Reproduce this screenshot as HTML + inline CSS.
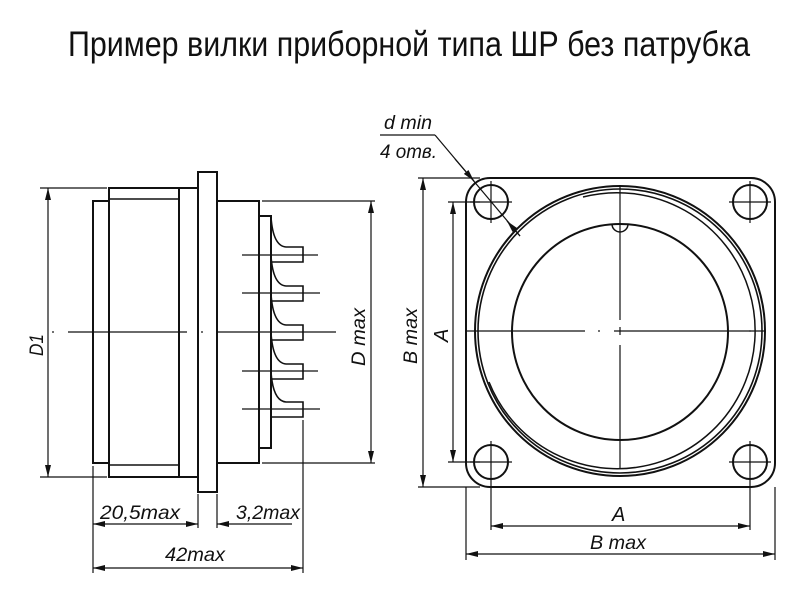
<!DOCTYPE html>
<html><head><meta charset="utf-8"><style>
html,body{margin:0;padding:0;background:#fff;}
svg{display:block;}
text{font-family:"Liberation Sans Narrow","Liberation Sans","DejaVu Sans",sans-serif;fill:#111;}
.it{font-style:italic;}
</style></head><body>
<svg width="800" height="600" viewBox="0 0 800 600" xmlns="http://www.w3.org/2000/svg">
<defs>
<marker id="ar" viewBox="0 0 12 6" refX="12" refY="3" markerWidth="12" markerHeight="6" orient="auto-start-reverse" markerUnits="userSpaceOnUse"><path d="M0,0 L12,3 L0,6 Z" fill="#111"/></marker>
</defs>
<text transform="translate(68,56) scale(1,1.25)" font-size="28" textLength="682" lengthAdjust="spacingAndGlyphs">Пример вилки приборной типа ШР без патрубка</text>

<g fill="none" stroke="#111" stroke-width="2">
<rect x="93" y="201" width="16" height="262"/>
<rect x="109" y="188" width="70" height="289"/>
<line x1="109" y1="199" x2="179" y2="199" stroke-width="1.5"/>
<line x1="109" y1="465" x2="179" y2="465" stroke-width="1.5"/>
<rect x="179" y="188" width="19" height="289"/>
<rect x="198" y="172" width="19" height="320"/>
<rect x="217" y="201" width="42" height="262"/>
<rect x="259" y="216" width="12" height="232"/>
<g stroke-width="1.6">
<path d="M271,217 Q273,246 286,247 L303,247 L303,262 L271,262"/>
<path d="M271,256 Q273,285 286,286 L303,286 L303,301 L271,301"/>
<path d="M271,294 Q273,324 286,325 L303,325 L303,340 L271,340"/>
<path d="M271,333 Q273,363 286,364 L303,364 L303,379 L271,379"/>
<path d="M271,372 Q273,401 286,402 L303,402 L303,417 L271,417"/>
</g>
</g>
<g stroke="#111" stroke-width="1.2" fill="none">
<line x1="242" y1="255" x2="318" y2="255"/>
<line x1="242" y1="293" x2="320" y2="293"/>
<line x1="242" y1="371" x2="318" y2="371"/>
<line x1="242" y1="409" x2="320" y2="409"/>
<line x1="68" y1="332" x2="187" y2="332"/>
<line x1="217" y1="332" x2="336" y2="332"/>
<line x1="52" y1="332" x2="54" y2="332"/>
<line x1="201" y1="332" x2="203" y2="332"/>
<line x1="40" y1="188" x2="107" y2="188"/>
<line x1="40" y1="477" x2="107" y2="477"/>
<line x1="48" y1="188" x2="48" y2="477" marker-start="url(#ar)" marker-end="url(#ar)"/>
<line x1="262" y1="201" x2="375" y2="201"/>
<line x1="262" y1="463" x2="375" y2="463"/>
<line x1="371" y1="201" x2="371" y2="463" marker-start="url(#ar)" marker-end="url(#ar)"/>
<line x1="93" y1="466" x2="93" y2="573"/>
<line x1="198" y1="494" x2="198" y2="528"/>
<line x1="217" y1="494" x2="217" y2="528"/>
<line x1="303" y1="420" x2="303" y2="573"/>
<line x1="93" y1="524" x2="198" y2="524" marker-start="url(#ar)" marker-end="url(#ar)"/>
<line x1="217" y1="524" x2="292" y2="524" marker-start="url(#ar)"/>
<line x1="93" y1="568" x2="303" y2="568" marker-start="url(#ar)" marker-end="url(#ar)"/>
</g>
<text class="it" x="100" y="519" font-size="19" textLength="80" lengthAdjust="spacingAndGlyphs">20,5max</text>
<text class="it" x="236" y="519" font-size="19" textLength="64" lengthAdjust="spacingAndGlyphs">3,2max</text>
<text class="it" x="165" y="561" font-size="19" textLength="60" lengthAdjust="spacingAndGlyphs">42max</text>
<text class="it" transform="translate(43,356) rotate(-90)" font-size="19" textLength="22" lengthAdjust="spacingAndGlyphs">D1</text>
<text class="it" transform="translate(365,366) rotate(-90)" font-size="19" textLength="58" lengthAdjust="spacingAndGlyphs">D max</text>

<g fill="none" stroke="#111" stroke-width="2">
<rect x="466" y="178" width="309" height="309" rx="24"/>
<circle cx="491" cy="202" r="17"/>
<circle cx="750" cy="202" r="17"/>
<circle cx="491" cy="462" r="17"/>
<circle cx="750" cy="462" r="17"/>
<circle cx="620" cy="331" r="145"/>
<circle cx="620" cy="331" r="142" stroke-width="1.6"/>
<path d="M583,197 A138,138 0 1,1 489,382" stroke-width="1.5"/>
<circle cx="620" cy="332" r="108"/>
<path d="M612,224 A8,8 0 0,0 628,224" stroke-width="1.5"/>
</g>
<g stroke="#111" stroke-width="1.2" fill="none">
<line x1="466" y1="331" x2="585" y2="331"/>
<line x1="598" y1="331" x2="600" y2="331"/>
<line x1="614" y1="331" x2="765" y2="331"/>
<line x1="749" y1="331" x2="751" y2="331"/>
<line x1="620" y1="185" x2="620" y2="320"/>
<line x1="620" y1="327" x2="620" y2="335"/>
<line x1="620" y1="345" x2="620" y2="468"/>
<line x1="470" y1="202" x2="512" y2="202"/><line x1="491" y1="181" x2="491" y2="223"/>
<line x1="729" y1="202" x2="771" y2="202"/><line x1="750" y1="181" x2="750" y2="223"/>
<line x1="470" y1="462" x2="512" y2="462"/><line x1="491" y1="441" x2="491" y2="530"/>
<line x1="729" y1="462" x2="771" y2="462"/><line x1="750" y1="441" x2="750" y2="530"/>
<line x1="418" y1="178" x2="480" y2="178"/>
<line x1="418" y1="487" x2="480" y2="487"/>
<line x1="423" y1="178" x2="423" y2="487" marker-start="url(#ar)" marker-end="url(#ar)"/>
<line x1="448" y1="202" x2="480" y2="202"/>
<line x1="448" y1="462" x2="480" y2="462"/>
<line x1="453" y1="202" x2="453" y2="462" marker-start="url(#ar)" marker-end="url(#ar)"/>
<line x1="491" y1="526" x2="750" y2="526" marker-start="url(#ar)" marker-end="url(#ar)"/>
<line x1="466" y1="487" x2="466" y2="560"/>
<line x1="775" y1="487" x2="775" y2="560"/>
<line x1="466" y1="554" x2="775" y2="554" marker-start="url(#ar)" marker-end="url(#ar)"/>
<line x1="380" y1="135" x2="435" y2="135"/>
<line x1="435" y1="135" x2="520" y2="236"/>
<line x1="455" y1="159" x2="474" y2="181" marker-end="url(#ar)"/>
<line x1="520" y1="236" x2="507" y2="221" marker-end="url(#ar)"/>
</g>
<text class="it" x="384" y="129" font-size="19" textLength="48" lengthAdjust="spacingAndGlyphs">d min</text>
<text class="it" x="380" y="158" font-size="19" textLength="57" lengthAdjust="spacingAndGlyphs">4 отв.</text>
<text class="it" transform="translate(448,342) rotate(-90)" font-size="20">A</text>
<text class="it" transform="translate(417,364) rotate(-90)" font-size="19" textLength="56" lengthAdjust="spacingAndGlyphs">B max</text>
<text class="it" x="612" y="521" font-size="20">A</text>
<text class="it" x="590" y="549" font-size="19" textLength="56" lengthAdjust="spacingAndGlyphs">B max</text>
</svg>
</body></html>
